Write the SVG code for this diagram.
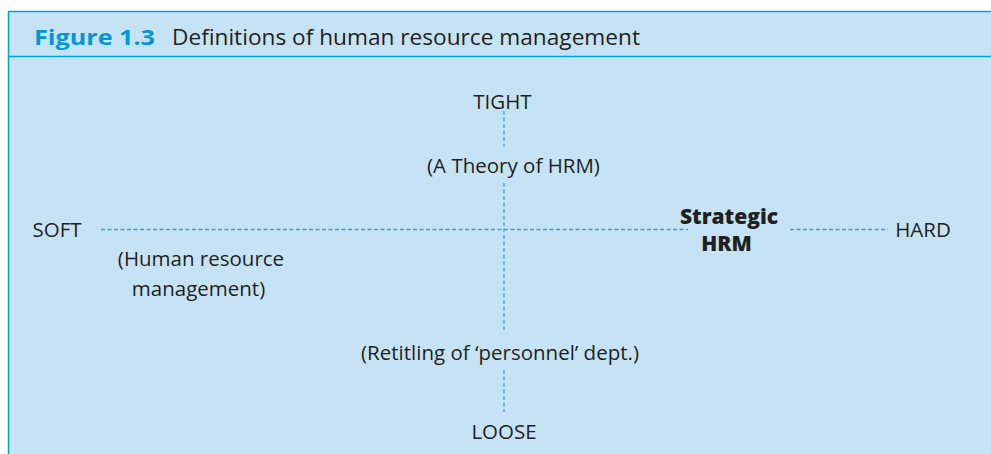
<svg xmlns="http://www.w3.org/2000/svg" width="991" height="454" viewBox="0 0 991 454">
<style>
.t{font-family:"Open Sans","Liberation Sans",sans-serif;font-size:20.5px;fill:#231f20}
.b{font-weight:800;font-size:21px}
.d{stroke:#2aa6e0;stroke-width:1.3;stroke-dasharray:4 2.5;fill:none}
</style>
<rect x="0" y="0" width="991" height="454" fill="#ffffff"/>
<g id="frame">
<rect x="8" y="11" width="990" height="450" fill="#c6e3f5"/>
<line x1="8" y1="11.5" x2="991" y2="11.5" stroke="#00a0e0" stroke-width="1.5"/>
<line x1="8.5" y1="11" x2="8.5" y2="454" stroke="#00a0e0" stroke-width="1.5"/>
<line x1="8" y1="56.5" x2="991" y2="56.5" stroke="#00a0e0" stroke-width="1.5"/>
<text x="34" y="45" style="font-family:'Open Sans','Liberation Sans',sans-serif;font-size:22px;font-weight:bold;fill:#0096d9" textLength="121" lengthAdjust="spacingAndGlyphs">Figure 1.3</text>
<text x="172" y="45" style="font-family:'Open Sans','Liberation Sans',sans-serif;font-size:22px;fill:#231f20" textLength="468" lengthAdjust="spacingAndGlyphs">Definitions of human resource management</text>
</g>
<g id="connectors">
<line class="d" x1="504" y1="111" x2="504" y2="147"/>
<line class="d" x1="504" y1="183" x2="504" y2="331"/>
<line class="d" x1="504" y1="370" x2="504" y2="412"/>
<line class="d" x1="101" y1="229.5" x2="688" y2="229.5"/>
<line class="d" x1="790" y1="229.5" x2="888" y2="229.5"/>
</g>
<g id="tight"><text class="t" x="502.5" y="109" text-anchor="middle">TIGHT</text></g>
<g id="theory"><text class="t" x="513.5" y="173" text-anchor="middle">(A Theory of HRM)</text></g>
<g id="soft"><text class="t" x="57" y="237" text-anchor="middle">SOFT</text></g>
<g id="hrm"><text class="t" x="201" y="266" text-anchor="middle">(Human resource</text><text class="t" x="198.5" y="296" text-anchor="middle">management)</text></g>
<g id="strategic"><text class="t b" x="729" y="224" text-anchor="middle">Strategic</text><text class="t b" x="726.5" y="251" text-anchor="middle">HRM</text></g>
<g id="hard"><text class="t" x="923" y="237" text-anchor="middle">HARD</text></g>
<g id="retitling"><text class="t" x="500" y="360" text-anchor="middle">(Retitling of ‘personnel’ dept.)</text></g>
<g id="loose"><text class="t" x="504" y="439" text-anchor="middle">LOOSE</text></g>
</svg>
